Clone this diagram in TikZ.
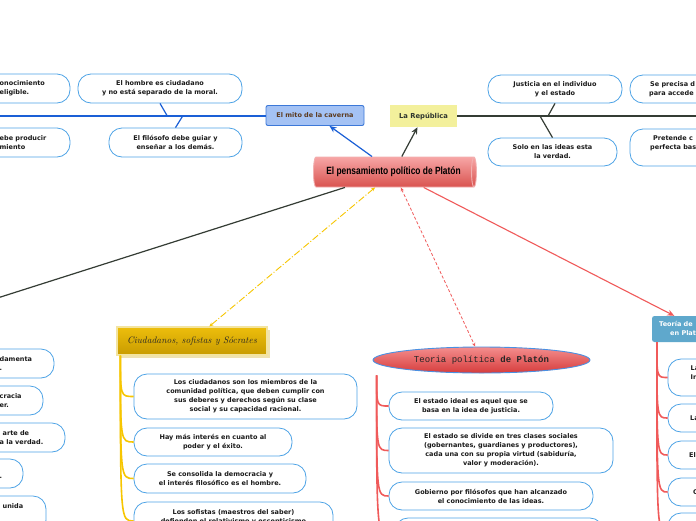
\documentclass[tikz,border=0pt]{standalone}
\usepackage{fontspec}
\usetikzlibrary{shapes.geometric,arrows.meta,calc,shadows}
\newfontfamily\boxfont{DejaVu Sans}
\newfontfamily\narrowfont[FakeStretch=0.8]{Liberation Sans}
\newfontfamily\monofont{Liberation Mono}
\newcommand\leaffont{\boxfont\bfseries\fontsize{6.5}{9}\selectfont}
\definecolor{leafblue}{HTML}{4DA3E6}
\definecolor{linkblue}{HTML}{1A5FD6}
\definecolor{darkline}{HTML}{343C34}
\definecolor{goldline}{HTML}{F7C600}
\definecolor{redline}{HTML}{F05A5A}
\definecolor{cavfill}{HTML}{A4C2F4}
\definecolor{cavdraw}{HTML}{3C78D8}
\definecolor{repfill}{HTML}{F3F09C}
\definecolor{tdfill}{HTML}{5FA8CC}
\definecolor{cavtext}{HTML}{5C3A1E}
\definecolor{leaftext}{HTML}{1A1A1A}
\definecolor{cyltop}{HTML}{F7A6A6}
\definecolor{cylbot}{HTML}{D9534F}
\definecolor{cyldraw}{HTML}{F2B0B0}
\definecolor{elltop}{HTML}{F48E8E}
\definecolor{ellbot}{HTML}{D63C3C}
\definecolor{elldraw}{HTML}{4A90E2}
\definecolor{goldtop}{HTML}{EDBE0C}
\definecolor{goldbot}{HTML}{C89B00}
\definecolor{goldframe}{HTML}{F3E4A0}
\definecolor{goldshadow}{HTML}{EFE2B0}
\tikzset{
  leaf/.style={draw=leafblue, line width=0.8pt, fill=white, rounded corners=13pt,
    align=center, inner sep=0pt, text=leaftext, font=\leaffont},
  cuttext/.style={align=left, inner sep=0pt, anchor=west, text=leaftext, font=\leaffont},
  bluearrow/.style={draw=linkblue, line width=1.2pt, -{Stealth[length=7pt,width=6pt]}},
  darkarrow/.style={draw=darkline, line width=1.2pt, -{Stealth[length=7pt,width=6pt]}},
  darkconn/.style={draw=darkline, line width=1.2pt},
  redarrow/.style={draw=redline, line width=1.1pt, -{Stealth[length=7pt,width=6pt]}},
  goldlink/.style={draw=goldline, line width=0.9pt, dash pattern=on 7pt off 2pt on 1pt off 2pt,
    {Stealth[length=4pt,width=3.5pt]}-{Stealth[length=4pt,width=3.5pt]}},
  redlink/.style={draw=redline, line width=0.8pt, dash pattern=on 3pt off 2pt,
    {Stealth[length=4pt,width=3.5pt]}-{Stealth[length=4pt,width=3.5pt]}},
  bluebar/.style={draw=linkblue, line width=2pt},
  darkbar/.style={draw=darkline, line width=2.2pt},
  bluetick/.style={draw=linkblue, line width=1.2pt},
  darktick/.style={draw=darkline, line width=1.2pt},
  goldtrunk/.style={draw=goldline, line width=1.6pt},
  redtrunk/.style={draw=redline, line width=1.6pt},
}
\begin{document}
\begin{tikzpicture}[x=1pt,y=-1pt]
\useasboundingbox (0,0) rectangle (696,520);
\fill[white] (0,0) rectangle (696,520);
\clip (0,0) rectangle (696,520);

% ---- top left: El mito de la caverna branch
\node[leaf, minimum width=170pt, minimum height=29pt] (lA) at (-15,88.5) {};
\node[cuttext] (lAt) at (-0.5,88.5) {onocimiento\\eligible.};
\node[leaf, minimum width=170pt, minimum height=29pt] (lB) at (-15,142.5) {};
\node[cuttext] (lBt) at (-0.5,142.5) {ebe producir\\miento};
\node[leaf, minimum width=164pt, minimum height=29pt] (hombre) at (160,88.5)
  {El hombre es ciudadano\\y no está separado de la moral.};
\node[leaf, minimum width=133pt, minimum height=29pt] (filosofo) at (175.5,142.5)
  {El filósofo debe guiar y\\enseñar a los demás.};
\node[draw=cavdraw, fill=cavfill, line width=0.9pt, rounded corners=2pt, minimum width=98pt,
  minimum height=20pt, inner sep=0pt, text=cavtext, font=\boxfont\bfseries\fontsize{6.5}{8}\selectfont]
  (caverna) at (315,115.5) {El mito de la caverna};
\coordinate (blueend) at (-30,115.5);
\coordinate (hj) at (167,115.5);
\coordinate (fj) at (183,115.5);
\draw[bluebar] (caverna.west) -- (blueend);
\draw[bluetick] (hombre.south) -- (hj);
\draw[bluetick] (fj) -- (filosofo.north);

% ---- top right: La República branch
\node[fill=repfill, minimum width=67pt, minimum height=22pt, inner sep=0pt,
  text=darkline!90!black, font=\boxfont\bfseries\fontsize{6.8}{8}\selectfont]
  (republica) at (423.5,116) {La República};
\node[leaf, minimum width=134pt, minimum height=28pt] (justicia) at (555,89)
  {Justicia en el individuo\\y el estado};
\node[leaf, minimum width=129pt, minimum height=28pt] (solo) at (552.5,152)
  {Solo en las ideas esta\\la verdad.};
\node[leaf, minimum width=170pt, minimum height=28pt] (rA) at (715,89) {};
\node[cuttext] (rAt) at (649,89) {\hspace*{1pt}Se precisa d\\para accede};
\node[leaf, minimum width=170pt, minimum height=37pt] (rB) at (715,147.5) {};
\node[cuttext] (rBt) at (650,143.5) {\hspace*{3pt}Pretende c\\perfecta bas};
\coordinate (darkend) at (730,116);
\coordinate (jj) at (548,116);
\coordinate (sj) at (540,116);
\draw[darkbar] (republica.east) -- (darkend);
\draw[darktick] (justicia.south) -- (jj);
\draw[darktick] (sj) -- (solo.north);

% ---- central topic
\node[cylinder, shape border rotate=0, aspect=0.5, minimum width=30pt, minimum height=163pt,
  top color=cyltop, bottom color=cylbot, draw=cyldraw, line width=0.9pt, inner sep=0pt,
  font=\narrowfont\bfseries\fontsize{10.5}{12}\selectfont, text=black]
  (center) at (393.5,172) {El pensamiento político de Platón};

% ---- Ciudadanos, sofistas y Sócrates
\node[top color=goldtop, bottom color=goldbot, draw=goldframe, line width=1.2pt,
  minimum width=150pt, minimum height=28pt, inner sep=0pt,
  drop shadow={shadow xshift=2.5pt, shadow yshift=-2.5pt, fill=goldshadow, opacity=1},
  font=\itshape\fontsize{9.5}{11}\selectfont, text=black!85]
  (cit) at (192,341) {Ciudadanos, sofistas y Sócrates};
\node[leaf, minimum width=223pt, minimum height=45pt] (c1) at (245.5,396.5)
  {Los ciudadanos son los miembros de la\\comunidad política, que deben cumplir con\\sus deberes y derechos según su clase\\social y su capacidad racional.};
\node[leaf, minimum width=158pt, minimum height=28pt] (c2) at (213,442)
  {Hay más interés en cuanto al\\poder y el éxito.};
\node[leaf, minimum width=172pt, minimum height=29pt] (c3) at (220,478.5)
  {Se consolida la democracia y\\el interés filosófico es el hombre.};
\node[leaf, minimum width=199pt, minimum height=38pt] (c4) at (233.5,521)
  {Los sofistas (maestros del saber)\\defienden el relativismo y escepticismo\\\mbox{}};
\coordinate (cs) at ([xshift=4pt]cit.south west);
\foreach \c in {c1,c2,c3,c4}
  \draw[goldtrunk] (cs) .. controls (cs |- \c.west) .. (\c.west);

% ---- Teoria politica de Platon
\node[ellipse, draw=elldraw, line width=0.9pt, top color=elltop, bottom color=ellbot,
  minimum width=217pt, minimum height=26pt, inner sep=0pt,
  font=\monofont\fontsize{9}{11}\selectfont, text=black!85]
  (tp) at (481.5,360) {Teoria política \textbf{de Platón}};
\node[leaf, minimum width=164pt, minimum height=28pt] (t1) at (471,406)
  {El estado ideal es aquel que se\\basa en la idea de justicia.};
\node[leaf, minimum width=224pt, minimum height=45pt] (t2) at (501,450.5)
  {El estado se divide en tres clases sociales\\(gobernantes, guardianes y productores),\\cada una con su propia virtud (sabiduría,\\valor y moderación).};
\node[leaf, minimum width=204pt, minimum height=28pt] (t3) at (491,496)
  {Gobierno por filósofos que han alcanzado\\el conocimiento de las ideas.};
\node[leaf, minimum width=208pt, minimum height=44pt] (t4) at (499,540) {};
\coordinate (ts) at ($(tp.west |- tp.south)+(4,2)$);
\foreach \c in {t1,t2,t3,t4}
  \draw[redtrunk] (ts) .. controls (ts |- \c.west) .. (\c.west);

% ---- Teoria de ... en Platon (right)
\node[fill=tdfill, rounded corners=2.5pt, minimum width=96pt, minimum height=26pt, inner sep=0pt]
  (td) at (700,329) {};
\node[cuttext, text=white] (tdt) at (659,328.5) {Teoría de\\\hspace*{11pt}en Platón};
\node[leaf, minimum width=150pt, minimum height=37pt] (r1) at (743,377.5) {};
\node[cuttext] (r1t) at (690.5,373) {La\\In};
\node[leaf, minimum width=150pt, minimum height=28pt] (r2) at (743,418) {};
\node[cuttext] (r2t) at (690,418) {La};
\node[leaf, minimum width=150pt, minimum height=28pt] (r3) at (743,455) {};
\node[cuttext] (r3t) at (689,455) {El};
\node[leaf, minimum width=150pt, minimum height=28pt] (r4) at (743,492) {};
\node[cuttext] (r4t) at (693,492) {C};
\node[leaf, minimum width=150pt, minimum height=37pt] (r5) at (743,531.5) {};
\coordinate (ds) at ([xshift=5pt]td.south west);
\foreach \c in {r1,r2,r3,r4,r5}
  \draw[redtrunk] (ds) .. controls (ds |- \c.west) .. (\c.west);

% ---- left column (off-canvas parent)
\node[leaf, minimum width=174pt, minimum height=29pt] (l1) at (-33,363.5) {};
\node[cuttext] (l1t) at (-0.5,363.5) {damenta\\.};
\node[leaf, minimum width=174pt, minimum height=29pt] (l2) at (-44,400.5) {};
\node[cuttext] (l2t) at (-0.5,400.5) {cracia\\er.};
\node[leaf, minimum width=174pt, minimum height=29pt] (l3) at (-22,437.5) {};
\node[cuttext] (l3t) at (-0.5,437.5) {\hspace*{3pt}arte de\\a la verdad.};
\node[leaf, minimum width=174pt, minimum height=29pt] (l4) at (-64,473.5) {};
\node[cuttext] (l4t) at (-0.5,473.5) {\mbox{}\\.};
\node[leaf, minimum width=174pt, minimum height=37pt] (l5) at (-41,514.5) {};
\node[cuttext] (l5t) at (2.5,506) {unida};
\coordinate (farleft) at (-100,329);

% ---- connectors from the central topic
\draw[bluearrow] (center) -- (caverna);
\draw[darkarrow] (center) -- (republica);
\draw[darkconn] (center) -- (farleft);
\draw[goldlink] (center) -- (cit);
\draw[redlink] (center) -- (tp);
\draw[redarrow] (center) -- (td);
\end{tikzpicture}
\end{document}
